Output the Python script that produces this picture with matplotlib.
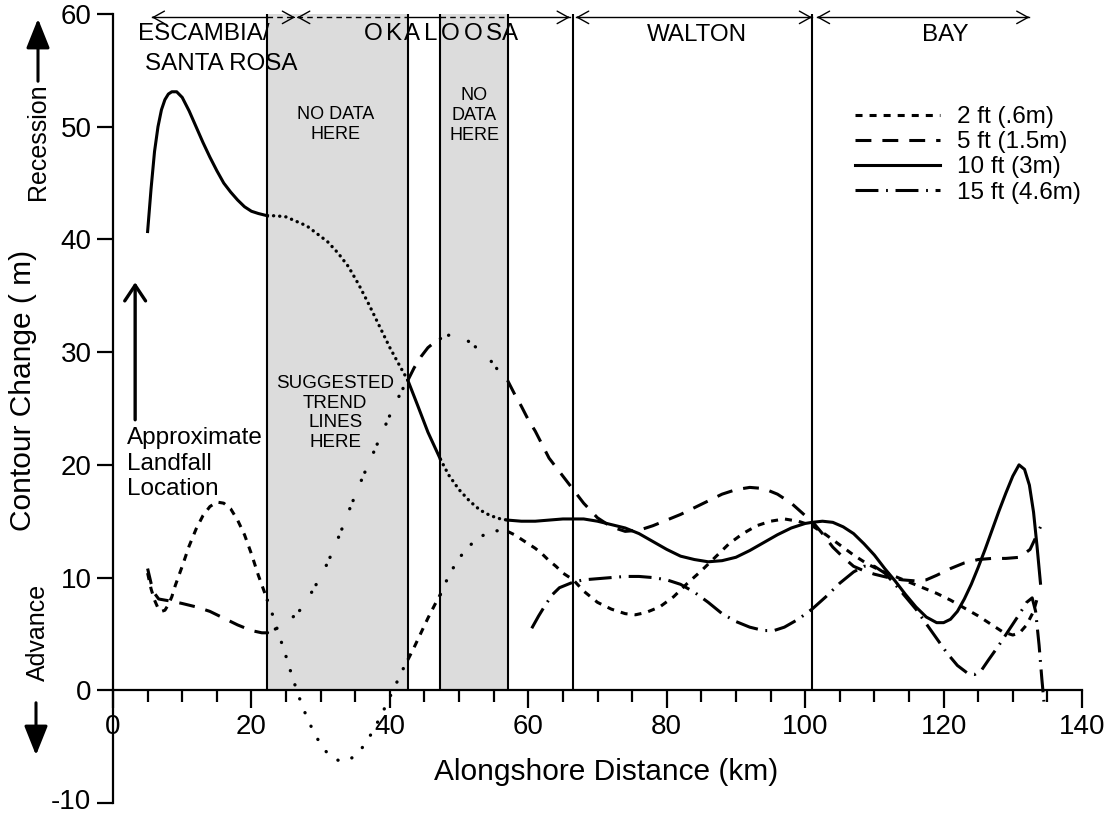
import matplotlib
matplotlib.use("Agg")
import matplotlib.pyplot as plt
import matplotlib.transforms as mtransforms
import numpy as np
from matplotlib.lines import Line2D

plt.rcParams['font.family'] = ['Liberation Sans', 'DejaVu Sans']
plt.rcParams['axes.unicode_minus'] = False

# ---------------- data ----------------
gap_zones = [(22.3, 42.6), (47.3, 57.0)]
county_lines = [22.3, 42.6, 47.3, 57.0, 66.5, 101.0]

x_10ft = [5.0, 5.5, 6.0, 6.5, 7.0, 7.5, 8.0, 8.5, 9.2, 10.0, 11.0, 12.0, 13.0, 14.0, 15.0, 16.0,
          17.0, 18.0, 19.0, 20.0, 21.0, 22.3, 23.5, 25.0, 26.5, 28.0, 29.5, 31.0, 32.5, 34.0,
          35.5, 37.0, 38.5, 40.0, 41.5, 42.6, 44.0, 45.5, 47.3, 48.5, 50.0, 51.5, 53.0, 54.5,
          56.0, 57.0, 59.0, 61.0, 63.0, 65.0, 66.5, 68.0, 70.0, 72.0, 74.0, 76.0, 78.0, 80.0,
          82.0, 84.0, 86.0, 88.0, 90.0, 92.0, 94.0, 96.0, 98.0, 100.0, 101.0, 102.5, 104.0,
          105.5, 107.0, 108.5, 110.0, 111.5, 113.0, 114.5, 116.0, 117.5, 119.0, 120.0, 121.0,
          122.0, 123.0, 124.0, 125.0, 126.0, 127.0, 128.0, 129.0, 130.0, 130.9, 131.7, 132.4,
          133.0, 133.5, 134.0]
y_10ft = [40.7, 44.5, 47.8, 50.0, 51.5, 52.4, 52.9, 53.1, 53.1, 52.6, 51.4, 50.0, 48.6, 47.3, 46.1,
          45.0, 44.2, 43.5, 42.9, 42.5, 42.3, 42.1, 42.1, 42.0, 41.6, 41.2, 40.5, 39.8, 38.8, 37.6,
          36.0, 34.2, 32.3, 30.4, 28.7, 27.5, 25.3, 22.9, 20.5, 19.1, 17.8, 16.8, 16.0, 15.5,
          15.2, 15.1, 15.0, 15.0, 15.1, 15.2, 15.2, 15.2, 15.0, 14.7, 14.4, 13.9, 13.2, 12.5,
          11.9, 11.6, 11.4, 11.5, 11.8, 12.4, 13.1, 13.8, 14.4, 14.8, 14.9, 15.0, 14.9,
          14.5, 13.9, 13.0, 12.0, 10.8, 9.7, 8.5, 7.4, 6.5, 6.0, 6.0, 6.3,
          7.0, 8.1, 9.4, 10.9, 12.5, 14.2, 15.9, 17.5, 19.0, 20.0, 19.6, 18.2,
          15.8, 12.8, 9.5]

x_5ft = [5.0, 5.5, 6.0, 6.6, 7.5, 8.5, 10.0, 12.0, 14.0, 16.0, 18.0, 20.0, 21.5, 22.3,
         23.0, 24.0, 25.0, 26.0, 27.0, 28.0, 29.0, 30.0, 31.0, 32.0, 33.0, 34.0, 35.0, 36.0,
         37.0, 38.0, 39.0, 40.0, 41.0, 42.0, 42.6, 43.5, 44.5, 45.5, 46.5, 47.3,
         48.5, 49.5, 50.5, 51.5, 52.5, 53.5, 54.5, 55.5, 57.0,
         58.0, 59.0, 60.0, 61.0, 62.0, 63.0, 64.0, 65.0, 66.5, 68.0, 70.0, 72.0, 74.0, 76.0,
         78.0, 80.0, 82.0, 84.0, 86.0, 88.0, 90.0, 92.0, 94.0, 96.0, 98.0, 100.0, 101.0,
         102.5, 104.0, 105.5, 107.0, 108.5, 110.0, 112.0, 114.0, 116.0, 117.5, 119.0, 121.0,
         123.0, 125.0, 127.0, 129.0, 131.0, 132.5, 133.5, 134.0]
y_5ft = [10.8, 9.5, 8.6, 8.1, 8.0, 7.9, 7.7, 7.4, 7.0, 6.4, 5.8, 5.3, 5.1, 5.1,
         5.3, 5.6, 6.0, 6.5, 7.1, 8.0, 9.0, 10.1, 11.3, 12.7, 14.2, 15.8, 17.3, 18.8,
         20.2, 21.6, 23.0, 24.4, 25.7, 26.9, 27.5, 28.6, 29.6, 30.4, 30.9, 31.2,
         31.5, 31.6, 31.3, 30.9, 30.4, 30.0, 29.3, 28.5, 27.5,
         26.3, 25.2, 24.0, 23.0, 21.8, 20.6, 19.8, 19.0, 17.8, 16.6, 15.3, 14.5, 14.1, 14.2,
         14.6, 15.1, 15.6, 16.2, 16.8, 17.4, 17.8, 18.0, 17.9, 17.4, 16.6, 15.5, 15.0,
         13.9, 12.7, 11.8, 11.0, 10.6, 10.3, 10.0, 9.8, 9.7, 9.8, 10.2, 10.8,
         11.3, 11.6, 11.7, 11.7, 11.8, 12.5, 13.8, 14.5]

x_2ft = [5.0, 5.5, 6.0, 6.5, 7.0, 7.5, 8.0, 8.5, 9.0, 10.0, 11.0, 12.0, 13.0, 14.0, 15.0, 16.0,
         17.0, 18.0, 19.0, 20.0, 21.0, 22.3,
         23.0, 24.0, 25.0, 26.0, 27.0, 28.0, 29.0, 30.0, 31.0, 32.0, 33.0, 34.0, 35.0, 36.0,
         37.0, 38.0, 39.0, 40.0, 41.0, 42.0, 42.6, 43.5, 44.5, 45.5, 46.5, 47.3,
         48.0, 49.0, 50.0, 51.0, 52.0, 53.0, 54.0, 55.0, 56.0, 57.0,
         58.0, 59.0, 60.0, 61.0, 62.0, 63.0, 64.0, 65.0, 66.5, 68.0, 70.0, 72.0, 74.0, 75.5,
         77.0, 79.0, 81.0, 83.0, 85.0, 87.0, 89.0, 91.0, 93.0, 95.0, 97.0, 99.0, 101.0, 103.0,
         105.0, 107.0, 109.0, 111.0, 113.0, 115.0, 117.0, 119.0, 121.0, 123.0, 125.0, 127.0,
         128.5, 130.0, 131.0, 132.0, 133.0, 133.6]
y_2ft = [10.4, 9.0, 8.0, 7.3, 7.0, 7.1, 7.6, 8.3, 9.3, 11.0, 12.8, 14.3, 15.5, 16.3, 16.7, 16.6,
         16.1, 15.1, 13.8, 12.1, 10.2, 8.0,
         6.8, 4.9, 3.0, 1.0, -0.8, -2.4, -3.7, -4.8, -5.6, -6.1, -6.3, -6.2, -5.8, -5.1,
         -4.2, -3.1, -1.9, -0.6, 0.7, 2.0, 2.7, 3.8, 5.1, 6.4, 7.6, 8.5,
         9.5, 10.7, 11.7, 12.5, 13.1, 13.6, 13.9, 14.1, 14.2, 14.1,
         13.8, 13.4, 13.0, 12.6, 12.1, 11.5, 11.0, 10.4, 9.8, 8.8, 7.8, 7.2, 6.8, 6.7,
         6.9, 7.4, 8.3, 9.5, 10.6, 11.8, 13.0, 13.9, 14.6, 15.0, 15.2, 15.0, 14.6, 13.8,
         12.9, 12.0, 11.2, 10.6, 10.1, 9.6, 9.1, 8.6, 8.0, 7.3, 6.6, 5.8,
         5.2, 4.9, 5.1, 5.8, 7.0, 8.3]

x_15ft = [60.5, 61.5, 62.5, 63.5, 64.5, 66.5, 68.0, 70.0, 72.0, 74.0, 76.0, 78.0, 80.0, 82.0,
          84.0, 86.0, 88.0, 90.0, 92.0, 94.0, 95.5, 97.0, 99.0, 101.0, 103.0, 105.0, 107.0,
          108.5, 110.0, 111.5, 113.0, 114.5, 116.0, 117.5, 119.0, 120.5, 122.0, 123.5, 124.5,
          125.5, 126.5, 128.0, 129.5, 131.0, 132.0, 132.8, 133.3, 133.8, 134.2, 134.5]
y_15ft = [5.5, 6.6, 7.6, 8.5, 9.1, 9.6, 9.8, 9.9, 10.0, 10.1, 10.1, 10.0, 9.8, 9.4,
          8.7, 7.8, 6.8, 6.1, 5.6, 5.3, 5.3, 5.6, 6.3, 7.2, 8.3, 9.5, 10.5,
          11.0, 11.0, 10.4, 9.4, 8.3, 7.2, 5.9, 4.6, 3.3, 2.2, 1.5, 1.4,
          1.8, 2.7, 4.0, 5.4, 6.8, 7.8, 8.2, 7.0, 4.0, 1.0, -1.0]

series_labels = ["2 ft (.6m)", "5 ft (1.5m)", "10 ft (3m)", "15 ft (4.6m)"]
county_names = ["WALTON", "BAY"]
x_ticks = [0, 20, 40, 60, 80, 100, 120, 140]
y_ticks = [-10, 0, 10, 20, 30, 40, 50, 60]

# ---------------- figure ----------------
W, H = 1109, 816
fig = plt.figure(figsize=(W / 100, H / 100), dpi=100)
ax = fig.add_axes([113 / W, (H - 803) / H, (1082 - 113) / W, (803 - 14) / H])
ax.set_xlim(0, 140)
ax.set_ylim(-10, 60)

for lo, hi in gap_zones:
    ax.axvspan(lo, hi, ymin=10 / 70, ymax=1, color='#dcdcdc', zorder=0, lw=0)
for xv in county_lines:
    ax.plot([xv, xv], [0, 60], color='black', lw=1.5, zorder=1, solid_capstyle='butt')

LW = 2.2
style_2 = dict(color='black', lw=LW, ls=(0, (2.3, 2.3)), dash_capstyle='butt')
style_5 = dict(color='black', lw=LW, ls=(0, (5.2, 3.6)), dash_capstyle='butt')
style_10 = dict(color='black', lw=LW, ls='-')
style_15 = dict(color='black', lw=LW, ls=(0, (7.5, 2.5, 0.6, 2.5)), dash_capstyle='butt')

trend_10 = dict(color='black', lw=2.4, ls=(0, (0.05, 1.8)), dash_capstyle='round')
trend_5 = dict(color='black', lw=2.4, ls=(0, (0.05, 2.6, 0.05, 6.5)), dash_capstyle='round')
trend_2 = dict(color='black', lw=2.4, ls=(0, (0.05, 4.4)), dash_capstyle='round')

bounds = [-1e9, gap_zones[0][0], gap_zones[0][1], gap_zones[1][0], gap_zones[1][1], 1e9]


def draw_series(xs, ys, main, trend):
    xs = np.asarray(xs)
    ys = np.asarray(ys)
    for i in range(len(bounds) - 1):
        lo, hi = bounds[i], bounds[i + 1]
        m = (xs >= lo) & (xs <= hi)
        if m.sum() < 2:
            continue
        st = trend if i % 2 == 1 else main
        ax.plot(xs[m], ys[m], zorder=3, **st)


draw_series(x_2ft, y_2ft, style_2, trend_2)
draw_series(x_5ft, y_5ft, style_5, trend_5)
draw_series(x_10ft, y_10ft, style_10, trend_10)
draw_series(x_15ft, y_15ft, style_15, style_15)

# ---------------- axes styling ----------------
for s in ['top', 'right']:
    ax.spines[s].set_visible(False)
ax.spines['bottom'].set_position(('data', 0))
ax.spines['bottom'].set_linewidth(1.6)
ax.spines['left'].set_linewidth(1.6)
ax.set_xticks(x_ticks)
ax.set_xticks(np.arange(5, 140, 5), minor=True)
ax.set_yticks(y_ticks)
ax.tick_params(axis='x', which='major', direction='out', length=13, width=1.6, labelsize=20, pad=4)
ax.tick_params(axis='x', which='minor', direction='out', length=8.5, width=1.6)
ax.tick_params(axis='y', which='major', direction='out', length=11.5, width=1.6, labelsize=20, pad=4)
fig.canvas.draw()
for lab in ax.get_yticklabels():
    if lab.get_text() in ('-10', '\u221210'):
        lab.set_transform(lab.get_transform() +
                          mtransforms.ScaledTranslation(0, 3 / 72, fig.dpi_scale_trans))

# ---------------- annotations ----------------
ytop = 59.7
seg_dash = (0, (4, 3))


def county_arrow(x0, x1):
    edges = sorted(set([x0, x1] + [b for z in gap_zones for b in z if x0 < b < x1]))
    for a, b in zip(edges[:-1], edges[1:]):
        mid = 0.5 * (a + b)
        inside = any(lo <= mid <= hi for lo, hi in gap_zones)
        ax.plot([a, b], [ytop, ytop], color='black', lw=1.0,
                ls=seg_dash if inside else '-', zorder=4)
    for tip, tail in [(x0, x0 + 0.3), (x1, x1 - 0.3)]:
        ax.annotate('', xy=(tip, ytop), xytext=(tail, ytop),
                    arrowprops=dict(arrowstyle='->,head_length=0.45,head_width=0.25',
                                    lw=1.0, color='black', mutation_scale=18,
                                    shrinkA=0, shrinkB=0), zorder=4)


county_arrow(5.6, 26.3)
county_arrow(26.6, 66.0)
county_arrow(66.9, 101.0)
county_arrow(101.7, 132.4)

cfs = 17.4
ax.text(3.6, 58.2, "ESCAMBIA/", fontsize=cfs, ha='left', va='center', zorder=5)
ax.text(4.6, 55.6, "SANTA ROSA", fontsize=cfs, ha='left', va='center', zorder=5)
oka_px = [373, 394, 412, 431, 450, 473, 494, 510]
for ch, px in zip("OKALOOSA", oka_px):
    ax.text((px - 113) / 6.92, 58.2, ch, fontsize=cfs, ha='center', va='center', zorder=5)
ax.text(84.4, 58.1, county_names[0], fontsize=cfs, ha='center', va='center', zorder=5)
ax.text(120.2, 58.1, county_names[1], fontsize=cfs, ha='center', va='center', zorder=5)

ax.text(32.2, 50.2, "NO DATA\nHERE", fontsize=13, ha='center', va='center', linespacing=1.2, zorder=5)
ax.text(52.2, 51.0, "NO\nDATA\nHERE", fontsize=13, ha='center', va='center', linespacing=1.2, zorder=5)
ax.text(32.1, 24.6, "SUGGESTED\nTREND\nLINES\nHERE", fontsize=13.5, ha='center', va='center',
        linespacing=1.2, zorder=5)
ax.text(2.0, 20.1, "Approximate\nLandfall\nLocation", fontsize=17.5, ha='left', va='center',
        linespacing=1.2, zorder=5)
ax.annotate('', xy=(3.2, 36.2), xytext=(3.2, 24.0),
            arrowprops=dict(arrowstyle='->,head_length=0.45,head_width=0.3', lw=2.4,
                            color='black', mutation_scale=25, shrinkA=0, shrinkB=0))

# legend
handles = [Line2D([], [], **style_2), Line2D([], [], **style_5),
           Line2D([], [], **style_10), Line2D([], [], **style_15)]
leg = fig.legend(handles, series_labels, loc='upper left',
                 bbox_to_anchor=(855 / W, 1 - 106 / H), bbox_transform=fig.transFigure,
                 frameon=False, fontsize=17.5, handlelength=3.5, handletextpad=0.7,
                 labelspacing=0.13, borderpad=0, borderaxespad=0)

# axis labels (figure coordinates)
fig.text(606 / W, 1 - 772 / H, "Alongshore Distance (km)", fontsize=21.5, ha='center', va='center')
fig.text(23 / W, 1 - 390 / H, "Contour Change ( m)", fontsize=21.5, ha='center', va='center',
         rotation=90)
fig.text(38 / W, 1 - 142 / H, "Recession", fontsize=18, ha='center', va='center', rotation=90)
fig.text(38 / W, 1 - 632 / H, "Advance", fontsize=18, ha='center', va='center', rotation=90)
fig.patches.append(matplotlib.patches.FancyArrowPatch(
    (38 / W, 1 - 84 / H), (38 / W, 1 - 16 / H), transform=fig.transFigure,
    arrowstyle='-|>,head_length=1.0,head_width=0.4', mutation_scale=18, lw=2.2, color='black'))
fig.patches.append(matplotlib.patches.FancyArrowPatch(
    (36 / W, 1 - 700 / H), (36 / W, 1 - 758 / H), transform=fig.transFigure,
    arrowstyle='-|>,head_length=1.0,head_width=0.4', mutation_scale=18, lw=2.2, color='black'))

fig.savefig("out.png", dpi=100)
